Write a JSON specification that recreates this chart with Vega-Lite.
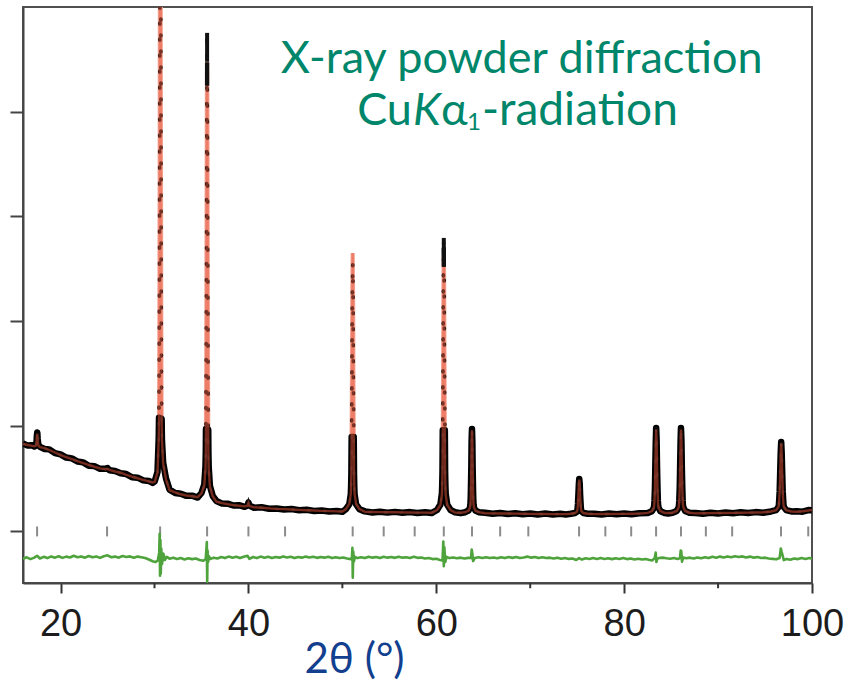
{
"$schema": "https://vega.github.io/schema/vega-lite/v6.json",
"width": 789, "height": 576,
"autosize": {"type": "none"},
"padding": {"left": 23, "top": 7, "right": 38, "bottom": 99},
"background": "white",
"config": {"view": {"stroke": "#505050", "strokeWidth": 2}},
"datasets": {
"pattern": [
{"t":16.0,"o":832,"c":828},{"t":16.5,"o":812,"c":818},{"t":17.0,"o":815,"c":809},{"t":17.2,"o":803,"c":806},{"t":17.38,"o":815,"c":812},{"t":17.44,"o":850,"c":840},{"t":17.48,"o":910,"c":900},{"t":17.52,"o":938,"c":925},{"t":17.56,"o":880,"c":870},{"t":17.62,"o":825,"c":818},{"t":17.8,"o":800,"c":798},
{"t":18.3,"o":780,"c":788},{"t":18.8,"o":776,"c":770},{"t":19.4,"o":740,"c":746},{"t":20.0,"o":728,"c":722},{"t":20.6,"o":698,"c":703},{"t":21.2,"o":690,"c":684},{"t":21.8,"o":660,"c":663},{"t":22.4,"o":652,"c":645},{"t":23.0,"o":620,"c":627},{"t":23.6,"o":616,"c":610},{"t":24.2,"o":590,"c":595},{"t":24.8,"o":592,"c":585},{"t":25.0,"o":598,"c":590},{"t":25.2,"o":576,"c":580},{"t":25.8,"o":570,"c":565},{"t":26.4,"o":548,"c":553},{"t":27.0,"o":540,"c":533},{"t":27.6,"o":510,"c":516},{"t":28.2,"o":506,"c":500},{"t":28.8,"o":480,"c":485},{"t":29.4,"o":474,"c":470},{"t":29.8,"o":455,"c":460},
{"t":30.02,"o":470,"c":466},{"t":30.32,"o":560,"c":555},{"t":30.45,"o":885,"c":870},{"t":30.48,"o":1079,"c":1060},{"t":30.50,"o":1403,"c":1390},{"t":30.53,"o":2377,"c":2350},{"t":30.56,"o":4001,"c":3950},{"t":30.59,"o":5950,"c":5900},{"t":30.62,"o":6923,"c":6850},{"t":30.65,"o":5947,"c":5900},{"t":30.68,"o":3996,"c":3950},{"t":30.71,"o":2370,"c":2350},{"t":30.74,"o":1394,"c":1390},{"t":30.76,"o":1068,"c":1060},{"t":30.79,"o":872,"c":870},{"t":30.92,"o":650,"c":640},{"t":31.22,"o":500,"c":490},
{"t":31.6,"o":392,"c":386},{"t":32.2,"o":360,"c":366},{"t":32.8,"o":352,"c":347},{"t":33.4,"o":332,"c":336},{"t":34.0,"o":334,"c":328},{"t":34.6,"o":316,"c":320},
{"t":35.0,"o":359,"c":356},{"t":35.3,"o":441,"c":432},{"t":35.43,"o":616,"c":596},{"t":35.46,"o":748,"c":721},{"t":35.48,"o":971,"c":930},{"t":35.51,"o":1638,"c":1620},{"t":35.54,"o":2750,"c":2700},{"t":35.57,"o":4086,"c":3950},{"t":35.585,"o":4470,"c":4250},{"t":35.60,"o":4753,"c":4477},{"t":35.615,"o":4470,"c":4250},{"t":35.63,"o":4084,"c":3950},{"t":35.66,"o":2748,"c":2700},{"t":35.69,"o":1634,"c":1620},{"t":35.72,"o":965,"c":924},{"t":35.74,"o":742,"c":715},{"t":35.77,"o":608,"c":588},{"t":35.9,"o":427,"c":418},{"t":36.2,"o":331,"c":328},
{"t":36.6,"o":283,"c":277},{"t":37.2,"o":258,"c":263},{"t":37.8,"o":257,"c":252},{"t":38.4,"o":240,"c":244},{"t":39.0,"o":243,"c":238},{"t":39.6,"o":228,"c":232},{"t":39.9,"o":240,"c":238},{"t":40.0,"o":268,"c":260},{"t":40.1,"o":240,"c":236},{"t":40.6,"o":219,"c":223},{"t":41.4,"o":223,"c":218},{"t":42.2,"o":209,"c":213},{"t":43.0,"o":212,"c":208},{"t":43.8,"o":201,"c":205},{"t":44.6,"o":206,"c":202},{"t":45.4,"o":194,"c":198},{"t":46.2,"o":199,"c":195},{"t":47.0,"o":188,"c":192},{"t":47.8,"o":193,"c":189},{"t":48.6,"o":183,"c":186},{"t":49.4,"o":188,"c":184},{"t":50.0,"o":180,"c":183},
{"t":50.38,"o":205,"c":206},{"t":50.74,"o":252,"c":255},{"t":50.90,"o":347,"c":354},{"t":50.93,"o":419,"c":428},{"t":50.96,"o":537,"c":552},{"t":50.99,"o":894,"c":922},{"t":51.03,"o":1488,"c":1540},{"t":51.06,"o":2201,"c":2281},{"t":51.10,"o":2557,"c":2652},{"t":51.14,"o":2201,"c":2281},{"t":51.17,"o":1488,"c":1540},{"t":51.21,"o":894,"c":922},{"t":51.24,"o":537,"c":552},{"t":51.27,"o":419,"c":428},{"t":51.30,"o":347,"c":354},{"t":51.46,"o":252,"c":255},{"t":51.82,"o":205,"c":206},
{"t":52.4,"o":184,"c":180},{"t":53.2,"o":174,"c":178},{"t":54.0,"o":181,"c":177},{"t":54.8,"o":172,"c":176},{"t":55.6,"o":179,"c":175},{"t":56.4,"o":170,"c":174},{"t":57.2,"o":177,"c":173},{"t":58.0,"o":168,"c":172},{"t":58.8,"o":176,"c":172},{"t":59.5,"o":168,"c":171},
{"t":60.08,"o":197,"c":196},{"t":60.44,"o":250,"c":245},{"t":60.60,"o":355,"c":344},{"t":60.63,"o":433,"c":418},{"t":60.66,"o":565,"c":542},{"t":60.69,"o":958,"c":913},{"t":60.73,"o":1614,"c":1531},{"t":60.76,"o":2401,"c":2272},{"t":60.78,"o":2700,"c":2520},{"t":60.80,"o":2795,"c":2643},{"t":60.82,"o":2700,"c":2520},{"t":60.84,"o":2401,"c":2272},{"t":60.87,"o":1614,"c":1531},{"t":60.91,"o":958,"c":913},{"t":60.94,"o":565,"c":542},{"t":60.97,"o":433,"c":418},{"t":61.00,"o":355,"c":344},{"t":61.16,"o":250,"c":245},{"t":61.52,"o":197,"c":196},
{"t":62.0,"o":176,"c":172},{"t":62.6,"o":167,"c":171},
{"t":63.08,"o":176,"c":176},{"t":63.44,"o":192,"c":192},{"t":63.60,"o":224,"c":223},{"t":63.63,"o":248,"c":247},{"t":63.66,"o":288,"c":287},{"t":63.69,"o":409,"c":405},{"t":63.73,"o":609,"c":603},{"t":63.76,"o":850,"c":840},{"t":63.80,"o":970,"c":958},{"t":63.84,"o":850,"c":840},{"t":63.87,"o":609,"c":603},{"t":63.91,"o":409,"c":405},{"t":63.94,"o":288,"c":287},{"t":63.97,"o":248,"c":247},{"t":64.00,"o":224,"c":223},{"t":64.16,"o":192,"c":192},{"t":64.52,"o":176,"c":176},
{"t":65.2,"o":170,"c":166},{"t":66.0,"o":161,"c":165},{"t":66.8,"o":168,"c":164},{"t":67.6,"o":159,"c":163},{"t":68.4,"o":166,"c":162},{"t":69.2,"o":157,"c":161},{"t":70.0,"o":164,"c":160},{"t":70.8,"o":155,"c":159},{"t":71.6,"o":163,"c":159},{"t":72.4,"o":154,"c":158},{"t":73.2,"o":162,"c":158},{"t":73.8,"o":155,"c":158},
{"t":74.32,"o":161,"c":161},{"t":74.77,"o":168,"c":168},{"t":74.97,"o":182,"c":182},{"t":75.01,"o":192,"c":192},{"t":75.04,"o":208,"c":208},{"t":75.09,"o":259,"c":259},{"t":75.13,"o":343,"c":343},{"t":75.18,"o":444,"c":440},{"t":75.22,"o":494,"c":488},{"t":75.27,"o":444,"c":440},{"t":75.31,"o":343,"c":343},{"t":75.36,"o":259,"c":259},{"t":75.40,"o":208,"c":208},{"t":75.43,"o":192,"c":192},{"t":75.48,"o":182,"c":182},{"t":75.67,"o":168,"c":168},{"t":76.12,"o":161,"c":161},
{"t":76.8,"o":162,"c":158},{"t":77.6,"o":155,"c":159},{"t":78.4,"o":163,"c":159},{"t":79.2,"o":156,"c":160},{"t":80.0,"o":164,"c":160},{"t":80.8,"o":157,"c":161},{"t":81.6,"o":166,"c":162},
{"t":82.51,"o":169,"c":169},{"t":82.96,"o":186,"c":186},{"t":83.16,"o":218,"c":218},{"t":83.20,"o":243,"c":243},{"t":83.23,"o":284,"c":284},{"t":83.28,"o":406,"c":404},{"t":83.32,"o":611,"c":605},{"t":83.37,"o":856,"c":845},{"t":83.41,"o":979,"c":965},{"t":83.46,"o":856,"c":845},{"t":83.50,"o":611,"c":605},{"t":83.55,"o":406,"c":404},{"t":83.59,"o":284,"c":284},{"t":83.62,"o":243,"c":243},{"t":83.67,"o":218,"c":218},{"t":83.86,"o":186,"c":186},{"t":84.31,"o":169,"c":169},
{"t":84.7,"o":164,"c":168},
{"t":85.15,"o":171,"c":171},{"t":85.60,"o":188,"c":188},{"t":85.80,"o":220,"c":220},{"t":85.84,"o":245,"c":245},{"t":85.87,"o":286,"c":286},{"t":85.92,"o":408,"c":404},{"t":85.96,"o":612,"c":605},{"t":86.01,"o":857,"c":845},{"t":86.05,"o":979,"c":965},{"t":86.10,"o":857,"c":845},{"t":86.14,"o":612,"c":605},{"t":86.19,"o":408,"c":404},{"t":86.23,"o":286,"c":286},{"t":86.26,"o":245,"c":245},{"t":86.31,"o":220,"c":220},{"t":86.50,"o":188,"c":188},{"t":86.95,"o":171,"c":171},
{"t":87.6,"o":169,"c":165},{"t":88.4,"o":162,"c":166},{"t":89.2,"o":171,"c":167},{"t":90.0,"o":164,"c":168},{"t":90.8,"o":173,"c":169},{"t":91.6,"o":166,"c":170},{"t":92.4,"o":175,"c":171},{"t":93.2,"o":168,"c":172},{"t":94.0,"o":177,"c":173},{"t":94.8,"o":171,"c":175},
{"t":95.64,"o":183,"c":183},{"t":96.18,"o":196,"c":196},{"t":96.41,"o":223,"c":223},{"t":96.47,"o":243,"c":243},{"t":96.50,"o":277,"c":277},{"t":96.56,"o":377,"c":375},{"t":96.61,"o":545,"c":540},{"t":96.67,"o":746,"c":738},{"t":96.72,"o":846,"c":835},{"t":96.77,"o":746,"c":738},{"t":96.83,"o":545,"c":540},{"t":96.88,"o":377,"c":375},{"t":96.94,"o":277,"c":277},{"t":96.97,"o":243,"c":243},{"t":97.03,"o":223,"c":223},{"t":97.26,"o":196,"c":196},{"t":97.80,"o":183,"c":183},
{"t":98.4,"o":184,"c":180},{"t":99.0,"o":181,"c":185},{"t":99.6,"o":196,"c":192},{"t":100.0,"o":194,"c":198}
],
"diff": [
{"t":16.0,"d":-268},{"t":16.4,"d":-255},{"t":16.8,"d":-272},{"t":17.2,"d":-258},{"t":17.5,"d":-240},{"t":17.8,"d":-266},{"t":18.2,"d":-250},{"t":18.6,"d":-262},{"t":19.0,"d":-246},{"t":19.4,"d":-258},{"t":19.8,"d":-244},{"t":20.2,"d":-260},{"t":20.6,"d":-248},{"t":21.0,"d":-256},{"t":21.4,"d":-240},{"t":21.8,"d":-254},{"t":22.2,"d":-246},{"t":22.6,"d":-258},{"t":23.0,"d":-242},{"t":23.4,"d":-255},{"t":23.8,"d":-247},{"t":24.2,"d":-260},{"t":24.6,"d":-244},{"t":25.0,"d":-236},{"t":25.4,"d":-254},{"t":25.8,"d":-248},{"t":26.2,"d":-258},{"t":26.6,"d":-242},{"t":27.0,"d":-252},{"t":27.4,"d":-246},{"t":27.8,"d":-258},{"t":28.2,"d":-248},{"t":28.6,"d":-255},{"t":29.0,"d":-262},{"t":29.4,"d":-276},{"t":29.8,"d":-292},{"t":30.1,"d":-300},{"t":30.35,"d":-285},{"t":30.50,"d":-210},{"t":30.55,"d":-30},{"t":30.59,"d":-430},{"t":30.63,"d":-90},{"t":30.67,"d":-410},{"t":30.72,"d":-170},{"t":30.80,"d":-320},{"t":30.95,"d":-220},{"t":31.10,"d":-280},{"t":31.3,"d":-250},{"t":31.6,"d":-268},{"t":32.0,"d":-258},{"t":32.4,"d":-270},{"t":32.8,"d":-262},{"t":33.2,"d":-276},{"t":33.6,"d":-264},{"t":34.0,"d":-272},{"t":34.4,"d":-266},{"t":34.8,"d":-280},{"t":35.2,"d":-288},{"t":35.45,"d":-272},{"t":35.53,"d":-170},{"t":35.57,"d":-110},{"t":35.61,"d":-490},{"t":35.65,"d":-190},{"t":35.71,"d":-300},{"t":35.80,"d":-245},{"t":35.95,"d":-270},{"t":36.3,"d":-258},{"t":36.7,"d":-266},{"t":37.1,"d":-252},{"t":37.5,"d":-262},{"t":37.9,"d":-248},{"t":38.3,"d":-258},{"t":38.7,"d":-250},{"t":39.1,"d":-262},{"t":39.5,"d":-250},{"t":39.9,"d":-240},{"t":40.1,"d":-270},{"t":40.5,"d":-252},{"t":40.9,"d":-262},{"t":41.3,"d":-248},{"t":41.7,"d":-258},{"t":42.1,"d":-250},{"t":42.5,"d":-262},{"t":42.9,"d":-252},{"t":43.3,"d":-258},{"t":43.7,"d":-246},{"t":44.1,"d":-256},{"t":44.5,"d":-250},{"t":44.9,"d":-262},{"t":45.3,"d":-252},{"t":45.7,"d":-258},{"t":46.1,"d":-248},{"t":46.5,"d":-256},{"t":46.9,"d":-250},{"t":47.3,"d":-260},{"t":47.7,"d":-252},{"t":48.1,"d":-258},{"t":48.5,"d":-250},{"t":48.9,"d":-262},{"t":49.3,"d":-254},{"t":49.7,"d":-262},{"t":50.1,"d":-256},{"t":50.5,"d":-266},{"t":50.9,"d":-272},{"t":51.02,"d":-255},{"t":51.07,"d":-165},{"t":51.11,"d":-450},{"t":51.16,"d":-200},{"t":51.23,"d":-295},{"t":51.35,"d":-250},{"t":51.6,"d":-262},{"t":52.0,"d":-254},{"t":52.4,"d":-262},{"t":52.8,"d":-250},{"t":53.2,"d":-258},{"t":53.6,"d":-252},{"t":54.0,"d":-262},{"t":54.4,"d":-250},{"t":54.8,"d":-258},{"t":55.2,"d":-252},{"t":55.6,"d":-260},{"t":56.0,"d":-250},{"t":56.4,"d":-258},{"t":56.8,"d":-254},{"t":57.2,"d":-262},{"t":57.6,"d":-250},{"t":58.0,"d":-260},{"t":58.4,"d":-256},{"t":58.8,"d":-266},{"t":59.2,"d":-262},{"t":59.6,"d":-272},{"t":60.0,"d":-268},{"t":60.4,"d":-280},{"t":60.66,"d":-285},{"t":60.75,"d":-105},{"t":60.80,"d":-340},{"t":60.86,"d":-160},{"t":60.95,"d":-300},{"t":61.1,"d":-250},{"t":61.4,"d":-262},{"t":61.8,"d":-256},{"t":62.2,"d":-264},{"t":62.6,"d":-258},{"t":63.0,"d":-266},{"t":63.4,"d":-260},{"t":63.70,"d":-262},{"t":63.77,"d":-180},{"t":63.84,"d":-220},{"t":63.92,"d":-290},{"t":64.1,"d":-262},{"t":64.5,"d":-255},{"t":64.9,"d":-262},{"t":65.3,"d":-254},{"t":65.7,"d":-262},{"t":66.1,"d":-256},{"t":66.5,"d":-264},{"t":66.9,"d":-254},{"t":67.3,"d":-262},{"t":67.7,"d":-252},{"t":68.1,"d":-260},{"t":68.5,"d":-252},{"t":68.9,"d":-262},{"t":69.3,"d":-256},{"t":69.7,"d":-248},{"t":70.1,"d":-258},{"t":70.5,"d":-252},{"t":70.9,"d":-262},{"t":71.3,"d":-254},{"t":71.7,"d":-262},{"t":72.1,"d":-258},{"t":72.5,"d":-266},{"t":72.9,"d":-258},{"t":73.3,"d":-268},{"t":73.7,"d":-262},{"t":74.1,"d":-270},{"t":74.5,"d":-266},{"t":74.9,"d":-280},{"t":75.2,"d":-262},{"t":75.5,"d":-276},{"t":75.9,"d":-264},{"t":76.3,"d":-270},{"t":76.7,"d":-262},{"t":77.1,"d":-270},{"t":77.5,"d":-262},{"t":77.9,"d":-270},{"t":78.3,"d":-264},{"t":78.7,"d":-272},{"t":79.1,"d":-264},{"t":79.5,"d":-270},{"t":79.9,"d":-262},{"t":80.3,"d":-272},{"t":80.7,"d":-266},{"t":81.1,"d":-276},{"t":81.5,"d":-268},{"t":81.9,"d":-276},{"t":82.3,"d":-270},{"t":82.7,"d":-280},{"t":83.0,"d":-284},{"t":83.25,"d":-262},{"t":83.36,"d":-210},{"t":83.44,"d":-300},{"t":83.52,"d":-270},{"t":83.7,"d":-262},{"t":84.1,"d":-258},{"t":84.5,"d":-264},{"t":84.9,"d":-268},{"t":85.3,"d":-262},{"t":85.7,"d":-270},{"t":85.95,"d":-262},{"t":86.02,"d":-190},{"t":86.08,"d":-195},{"t":86.16,"d":-296},{"t":86.3,"d":-256},{"t":86.6,"d":-264},{"t":87.0,"d":-258},{"t":87.4,"d":-266},{"t":87.8,"d":-256},{"t":88.2,"d":-264},{"t":88.6,"d":-254},{"t":89.0,"d":-262},{"t":89.4,"d":-250},{"t":89.8,"d":-258},{"t":90.2,"d":-248},{"t":90.6,"d":-256},{"t":91.0,"d":-246},{"t":91.4,"d":-254},{"t":91.8,"d":-244},{"t":92.2,"d":-252},{"t":92.6,"d":-246},{"t":93.0,"d":-256},{"t":93.4,"d":-248},{"t":93.8,"d":-258},{"t":94.2,"d":-252},{"t":94.6,"d":-262},{"t":95.0,"d":-258},{"t":95.4,"d":-266},{"t":95.8,"d":-270},{"t":96.2,"d":-274},{"t":96.55,"d":-262},{"t":96.68,"d":-170},{"t":96.76,"d":-200},{"t":96.88,"d":-240},{"t":97.0,"d":-282},{"t":97.3,"d":-270},{"t":97.7,"d":-278},{"t":98.1,"d":-266},{"t":98.5,"d":-272},{"t":98.9,"d":-262},{"t":99.3,"d":-270},{"t":99.7,"d":-262},{"t":100.0,"d":-268}
],
"bragg": [
{"t":17.5},{"t":24.95},{"t":30.6},{"t":35.6},{"t":40.0},{"t":43.9},{"t":51.1},{"t":54.4},{"t":57.7},{"t":60.8},{"t":63.8},{"t":66.8},{"t":69.8},{"t":75.2},{"t":78.0},{"t":80.75},{"t":83.4},{"t":86.05},{"t":88.7},{"t":91.5},{"t":96.7},{"t":99.6}
],
"minor": [{"t":30},{"t":50},{"t":70},{"t":90}]
},
"layer": [
{
"data": {"name": "bragg"},
"mark": {"type": "rule", "color": "#8c8c8c", "strokeWidth": 2},
"encoding": {
"x": {"field": "t", "type": "quantitative",
"scale": {"domain": [16, 100], "nice": false, "zero": false},
"axis": {"values": [20, 40, 60, 80, 100], "tickSize": 10, "tickWidth": 2, "tickColor": "#333333",
"domainColor": "#454545", "domainWidth": 2, "grid": false,
"labelFont": "Liberation Sans", "labelFontSize": 38, "labelColor": "#1c1c1c",
"labelBaseline": "alphabetic", "labelPadding": 42, "labelFlush": false, "labelOverlap": false,
"title": "2θ (°)", "titleFont": "Lato", "titleFontSize": 42, "titleFontWeight": "normal",
"titleColor": "#123f8e", "titleX": 331, "titleY": 89, "titleBaseline": "alphabetic", "titleAlign": "center"}},
"y": {"datum": -55, "type": "quantitative",
"scale": {"domain": [-500, 5000], "nice": false, "zero": false},
"axis": {"values": [0, 1000, 2000, 3000, 4000], "labels": false, "tickSize": 13, "tickWidth": 2,
"tickColor": "#444444", "domainColor": "#454545", "domainWidth": 2, "grid": false, "title": null}},
"y2": {"datum": 40}
}
},
{
"data": {"name": "diff"},
"mark": {"type": "line", "color": "#4fa33c", "strokeWidth": 2.6, "strokeJoin": "round", "clip": true},
"encoding": {"x": {"field": "t", "type": "quantitative"}, "y": {"field": "d", "type": "quantitative"}}
},
{
"data": {"name": "pattern"},
"mark": {"type": "line", "color": "#f3a595", "strokeWidth": 4.2, "clip": true},
"encoding": {"x": {"field": "t", "type": "quantitative"}, "y": {"field": "c", "type": "quantitative"}}
},
{
"data": {"name": "pattern"},
"transform": [{"filter": "datum.o < 1100"}],
"mark": {"type": "line", "color": "#000000", "strokeWidth": 6.5, "strokeJoin": "round", "clip": true},
"encoding": {"x": {"field": "t", "type": "quantitative"}, "y": {"field": "o", "type": "quantitative"}}
},
{
"data": {"name": "pattern"},
"mark": {"type": "line", "color": "#111111", "strokeWidth": 3.6, "strokeDash": [1, 15], "strokeCap": "round", "clip": true},
"encoding": {"x": {"field": "t", "type": "quantitative"}, "y": {"field": "o", "type": "quantitative"}}
},
{
"data": {"name": "pattern"},
"mark": {"type": "line", "color": "#e8553a", "opacity": 0.5, "strokeWidth": 2.4, "clip": true},
"encoding": {"x": {"field": "t", "type": "quantitative"}, "y": {"field": "c", "type": "quantitative"}}
},
{
"data": {"name": "pattern"},
"transform": [{"filter": "datum.o - datum.c > 140"}],
"mark": {"type": "rule", "color": "#111111", "strokeWidth": 4, "clip": true},
"encoding": {"x": {"field": "t", "type": "quantitative"}, "y": {"field": "o", "type": "quantitative"}, "y2": {"field": "c"}}
},
{
"data": {"name": "minor"},
"mark": {"type": "rule", "color": "#333333", "strokeWidth": 2, "clip": false},
"encoding": {"x": {"field": "t", "type": "quantitative"}, "y": {"datum": -500}, "y2": {"datum": -550}}
},
{
"data": {"values": [{"t": 69.1, "v": 4370, "s": "X-ray powder diffraction"}]},
"mark": {"type": "text", "font": "Lato", "fontSize": 45, "color": "#00866a", "align": "center", "baseline": "alphabetic"},
"encoding": {"x": {"field": "t", "type": "quantitative"}, "y": {"field": "v", "type": "quantitative"}, "text": {"field": "s"}}
},
{
"data": {"values": [{"t": 57.41, "v": 3873, "s": "Cu"}]},
"mark": {"type": "text", "font": "Lato", "fontSize": 45, "color": "#00866a", "align": "right", "baseline": "alphabetic"},
"encoding": {"x": {"field": "t", "type": "quantitative"}, "y": {"field": "v", "type": "quantitative"}, "text": {"field": "s"}}
},
{
"data": {"values": [{"t": 57.52, "v": 3873, "s": "K"}]},
"mark": {"type": "text", "font": "Lato", "fontSize": 45, "fontStyle": "italic", "color": "#00866a", "align": "left", "baseline": "alphabetic"},
"encoding": {"x": {"field": "t", "type": "quantitative"}, "y": {"field": "v", "type": "quantitative"}, "text": {"field": "s"}}
},
{
"data": {"values": [{"t": 60.5, "v": 3873, "s": "α"}]},
"mark": {"type": "text", "font": "Lato", "fontSize": 45, "color": "#00866a", "align": "left", "baseline": "alphabetic"},
"encoding": {"x": {"field": "t", "type": "quantitative"}, "y": {"field": "v", "type": "quantitative"}, "text": {"field": "s"}}
},
{
"data": {"values": [{"t": 63.27, "v": 3826, "s": "1"}]},
"mark": {"type": "text", "font": "Lato", "fontSize": 24, "color": "#00866a", "align": "left", "baseline": "alphabetic"},
"encoding": {"x": {"field": "t", "type": "quantitative"}, "y": {"field": "v", "type": "quantitative"}, "text": {"field": "s"}}
},
{
"data": {"values": [{"t": 64.87, "v": 3873, "s": "-radiation"}]},
"mark": {"type": "text", "font": "Lato", "fontSize": 46, "color": "#00866a", "align": "left", "baseline": "alphabetic"},
"encoding": {"x": {"field": "t", "type": "quantitative"}, "y": {"field": "v", "type": "quantitative"}, "text": {"field": "s"}}
}
]
}
